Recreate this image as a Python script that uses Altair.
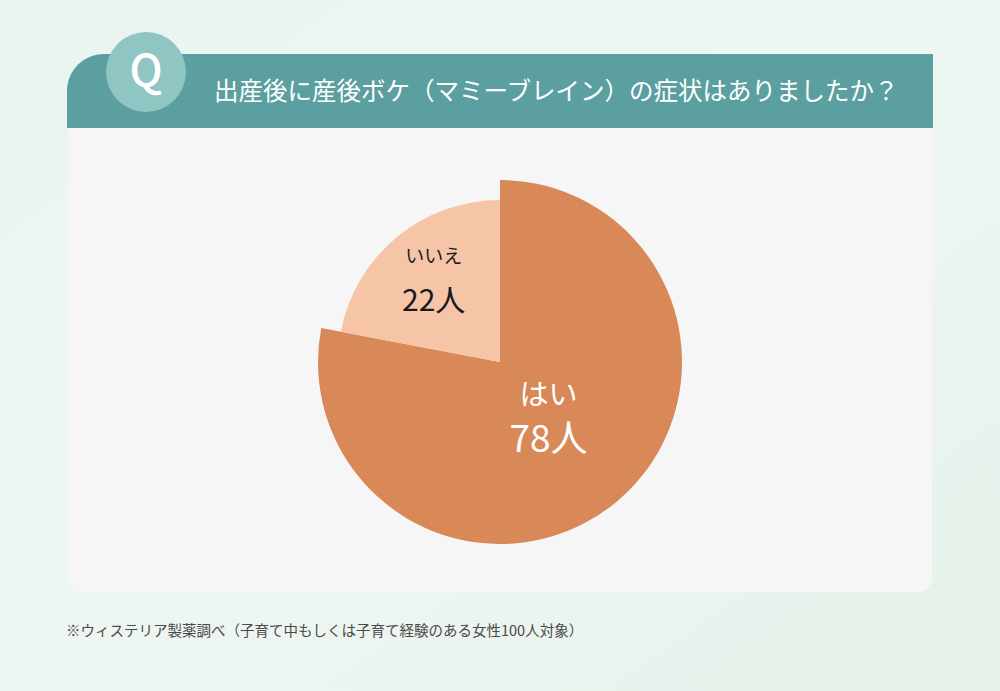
import altair as alt
import pandas as pd

categories = ["はい", "いいえ"]
counts = [78, 22]
value_labels = ["78人", "22人"]

title_text = "出産後に産後ボケ（マミーブレイン）の症状はありましたか？"
note_text = "※ウィステリア製薬調べ（子育て中もしくは子育て経験のある女性100人対象）"

FONT = "Noto Sans CJK JP"
df = pd.DataFrame({"category": categories, "count": counts, "label": value_labels})
one = alt.Data(values=[{}])

bg = alt.Chart(one).mark_rect(
    color=alt.LinearGradient(
        gradient="linear", x1=0, y1=0, x2=1, y2=1,
        stops=[alt.GradientStop(offset=0, color="#eaf4ee"),
               alt.GradientStop(offset=0.5, color="#eef6f1"),
               alt.GradientStop(offset=1, color="#e6f1ea")])
).encode(x=alt.value(0), x2=alt.value(1000), y=alt.value(0), y2=alt.value(691))

panel = alt.Chart(one).mark_rect(color="#f6f6f6", cornerRadiusBottomLeft=14,
                                  cornerRadiusBottomRight=14).encode(
    x=alt.value(68), x2=alt.value(932), y=alt.value(120), y2=alt.value(592))

band = alt.Chart(one).mark_rect(color="#5b9fa1", cornerRadiusTopLeft=52).encode(
    x=alt.value(67), x2=alt.value(933), y=alt.value(54), y2=alt.value(128))

qcircle = alt.Chart(one).mark_circle(color="#8fc6c4", opacity=1, size=6400).encode(
    x=alt.value(146), y=alt.value(72))

qtext = alt.Chart(one).mark_text(text="Q", font=FONT, fontSize=44, fontWeight=500, color="white",
                                 align="center", baseline="middle").encode(
    x=alt.value(146), y=alt.value(73))

title = alt.Chart(one).mark_text(text=title_text, font=FONT, fontSize=24.5, color="white",
                                 align="left", baseline="middle").encode(
    x=alt.value(214), y=alt.value(93))

note = alt.Chart(one).mark_text(text=note_text, font=FONT, fontSize=14.5, color="#4a4a4a",
                                align="left", baseline="middle").encode(
    x=alt.value(66), y=alt.value(632))

base = alt.Chart(df).transform_calculate(
    ord="datum.category == 'はい' ? 0 : 1",
    r_arc="datum.category == 'はい' ? 182 : 162",
    r_lab="datum.category == 'はい' ? 76 : 104",
).transform_window(
    cum="sum(count)", sort=[alt.SortField("ord", order="ascending")], frame=[None, 0]
).transform_joinaggregate(
    total="sum(count)"
).transform_calculate(
    a0="2 * PI * (datum.cum - datum.count) / datum.total",
    a1="2 * PI * datum.cum / datum.total",
).transform_calculate(
    am="(datum.a0 + datum.a1) / 2"
)

pie = base.mark_arc(stroke=None).encode(
    theta=alt.Theta("a0:Q", scale=None),
    theta2="a1:Q",
    color=alt.Color("category:N", scale=alt.Scale(domain=categories,
                                                   range=["#d98858", "#f6c5a8"]), legend=None),
    radius=alt.Radius("r_arc:Q", scale=None),
    x=alt.value(500), y=alt.value(362),
)

name_text = base.mark_text(font=FONT, baseline="middle", align="center", dy=-25).encode(
    theta=alt.Theta("am:Q", scale=None),
    text="category:N",
    radius=alt.Radius("r_lab:Q", scale=None),
    size=alt.condition("datum.category == 'はい'", alt.value(29), alt.value(19)),
    color=alt.condition("datum.category == 'はい'", alt.value("white"), alt.value("#1a1a1a")),
    x=alt.value(500), y=alt.value(362),
)

val_text = base.mark_text(font=FONT, baseline="middle", align="center", dy=20).encode(
    theta=alt.Theta("am:Q", scale=None),
    text="label:N",
    radius=alt.Radius("r_lab:Q", scale=None),
    size=alt.condition("datum.category == 'はい'", alt.value(37), alt.value(30)),
    color=alt.condition("datum.category == 'はい'", alt.value("white"), alt.value("#1a1a1a")),
    x=alt.value(500), y=alt.value(362),
)

chart = alt.layer(bg, panel, band, qcircle, qtext, title, note, pie, name_text, val_text).properties(
    width=1000, height=691, padding=0, autosize="none"
).configure_view(strokeWidth=0)

chart.save("out.html", embed_options={"renderer": "svg", "actions": False})
